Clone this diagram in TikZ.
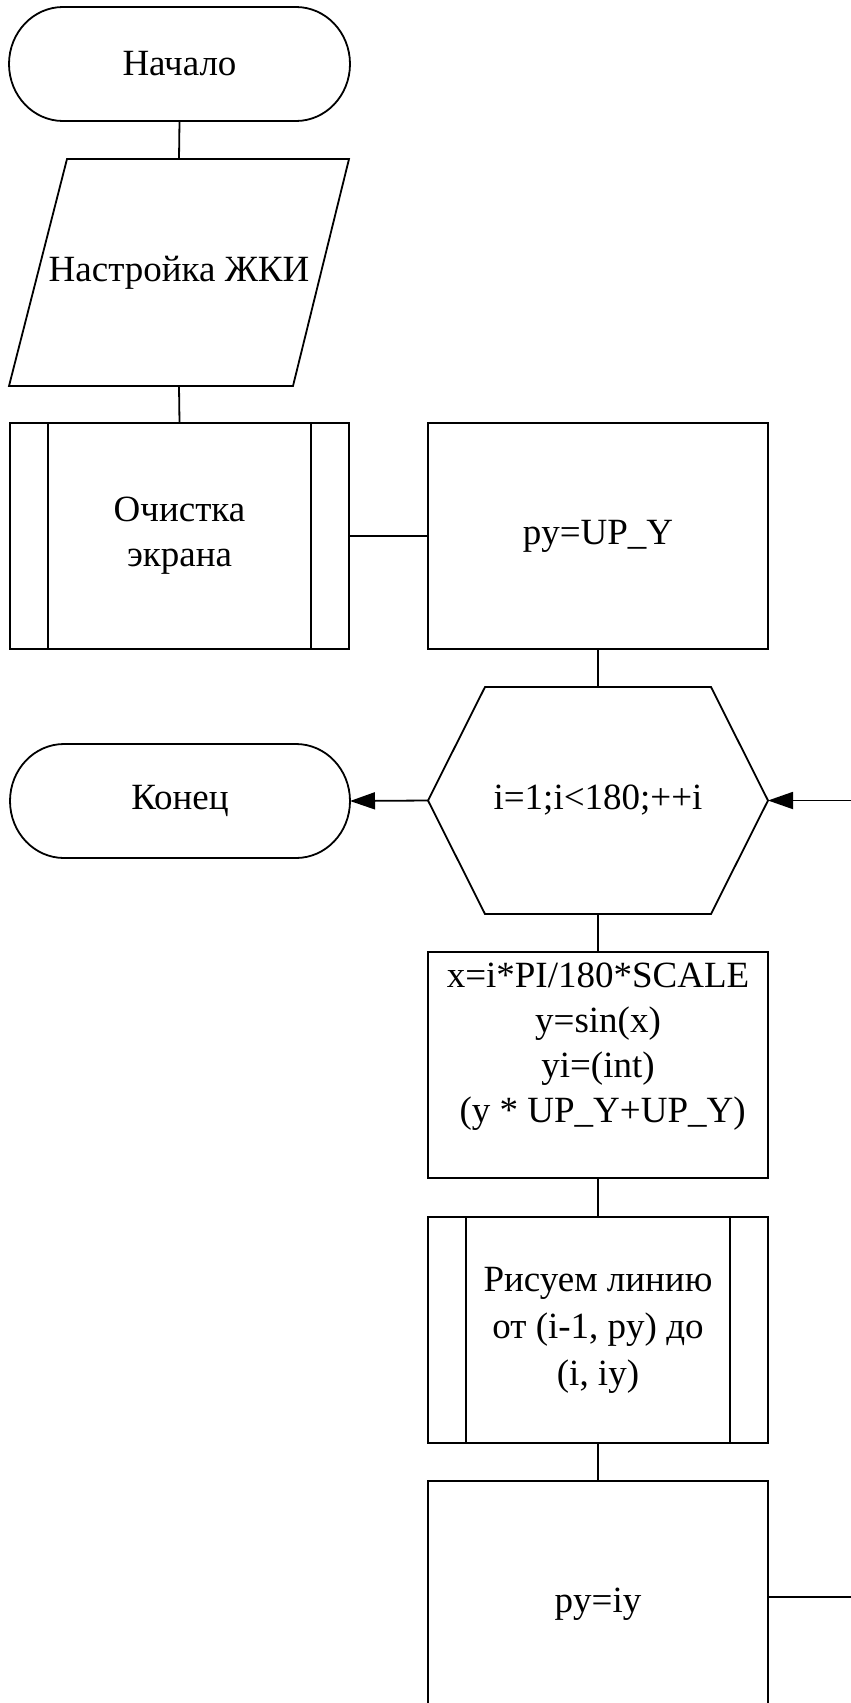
\documentclass[tikz,border=0pt]{standalone}
\usepackage{fontspec}
\setmainfont{Liberation Serif}
\usetikzlibrary{arrows.meta}
\newcommand\termshape[1]{%
  \draw[ln] ([xshift=54pt]#1.north west) -- ([xshift=-54pt]#1.north east)
    arc[start angle=90,end angle=-90,x radius=54pt,y radius=57pt]
    -- ([xshift=54pt]#1.south west)
    arc[start angle=270,end angle=90,x radius=54pt,y radius=57pt] -- cycle;}
\newcommand\predefbars[1]{%
  \draw[ln] ([xshift=38pt]#1.north west) -- ([xshift=38pt]#1.south west);
  \draw[ln] ([xshift=-38pt]#1.north east) -- ([xshift=-38pt]#1.south east);}
\begin{document}
\begin{tikzpicture}[x=1pt,y=-1pt,
  ln/.style={line width=1.8pt,black},
  base/.style={inner sep=0pt,outer sep=0pt,align=center,
    font=\fontsize{37pt}{45pt}\selectfont},
  term/.style={base,minimum width=341pt,minimum height=114pt},
  proc/.style={base,draw,ln,minimum width=340pt,minimum height=226pt},
  plain/.style={base,minimum width=340pt,minimum height=227pt},
  conn/.style={ln},
  arr/.style={ln,-{Triangle[length=25pt,width=17pt]}}]
\useasboundingbox (0,0) rectangle (851,1703);
% nodes
\node[term] (start) at (179.5,64) {Начало};
\node[plain] (io) at (179,272.5) {Настройка ЖКИ};
\node[proc,minimum width=339pt] (clear) at (179.5,536) {Очистка\\экрана};
\node[proc] (init) at (598,536) {py=UP\_Y};
\node[plain] (hex) at (598,800.5) {i=1;i<180;++i};
\node[term,minimum width=340pt] (end) at (180,801) {Конец};
\node[proc] (calc) at (598,1065) {x=i*PI/180*SCALE\\y=sin(x)\\yi=(int)\\~(y * UP\_Y+UP\_Y)\\\mbox{}};
\node[proc,font=\fontsize{37pt}{47pt}\selectfont] (drawl) at (598,1330) {Рисуем линию\\от (i-1, py) до\\(i, iy)};
\node[proc,minimum height=246pt] (upd) at (598,1604) {py=iy};
\coordinate (loop) at (900,1597);
% shapes
\termshape{start}
\termshape{end}
\draw[ln] ([xshift=58pt]io.north west) -- (io.north east)
  -- ([xshift=-56pt]io.south east) -- (io.south west) -- cycle;
\draw[ln] (hex.west) -- ([xshift=57pt]hex.north west) -- ([xshift=-57pt]hex.north east)
  -- (hex.east) -- ([xshift=-57pt]hex.south east) -- ([xshift=57pt]hex.south west) -- cycle;
\predefbars{clear}
\predefbars{drawl}
% connectors
\draw[conn] (start.south) -- (io.north);
\draw[conn] (io.south) -- (clear.north);
\draw[conn] (clear.east) -- (init.west);
\draw[conn] (init.south) -- (hex.north);
\draw[arr] (hex.west) -- (end.east);
\draw[conn] (hex.south) -- (calc.north);
\draw[conn] (calc.south) -- (drawl.north);
\draw[conn] (drawl.south) -- (upd.north);
\draw[arr] (upd.east |- loop) -- (loop) |- (hex.east);
\end{tikzpicture}
\end{document}
